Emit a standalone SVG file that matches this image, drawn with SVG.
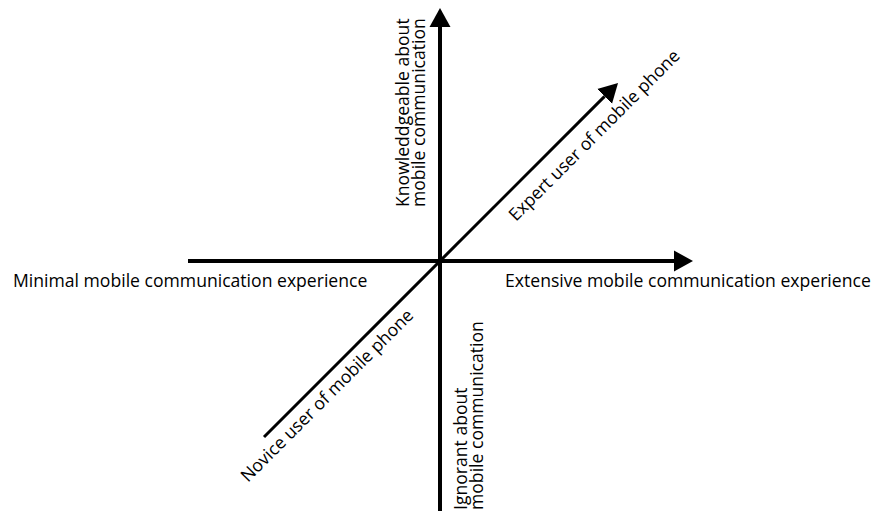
<svg xmlns="http://www.w3.org/2000/svg" width="881" height="513" viewBox="0 0 881 513">
  <style>
    .axis { stroke: #000; stroke-width: 4; fill: none; }
    .diag { stroke: #000; stroke-width: 3; fill: none; }
    .label { font-family: "Open Sans", "Liberation Sans", sans-serif; font-size: 17.6px; fill: #000; }
  </style>
  <defs>
    <marker id="arrow" markerUnits="userSpaceOnUse" markerWidth="20" markerHeight="22" viewBox="0 -11 20 22" refX="0" refY="0" orient="auto">
      <path d="M0,-10.5 L19,0 L0,10.5 z" fill="#000"/>
    </marker>
  </defs>

  <!-- axes -->
  <g id="connectors">
    <path id="axis-experience" class="axis" d="M188,261 L674,261" marker-end="url(#arrow)"/>
    <path id="axis-knowledge" class="axis" d="M440,511 L440,27" marker-end="url(#arrow)"/>
    <path id="axis-expertise" class="diag" d="M264,437 L604.6,96.4" marker-end="url(#arrow)"/>
  </g>

  <!-- axis end labels -->
  <g id="minimal-experience">
    <text class="label" x="13" y="287">Minimal mobile communication experience</text>
  </g>
  <g id="extensive-experience">
    <text class="label" x="505" y="287">Extensive mobile communication experience</text>
  </g>
  <g id="knowledgeable">
    <text class="label" transform="translate(409,207) rotate(-90)">
      <tspan x="0" y="0">Knowleddgeable about</tspan>
      <tspan x="0" dy="16">mobile communication</tspan>
    </text>
  </g>
  <g id="ignorant">
    <text class="label" transform="translate(467,510) rotate(-90)">
      <tspan x="0" y="0">Ignorant about</tspan>
      <tspan x="0" dy="16">mobile communication</tspan>
    </text>
  </g>
  <g id="expert-user">
    <text class="label" transform="translate(516,222) rotate(-45)">Expert user of mobile phone</text>
  </g>
  <g id="novice-user">
    <text class="label" transform="translate(248,483) rotate(-45)">Novice user of mobile phone</text>
  </g>
</svg>
